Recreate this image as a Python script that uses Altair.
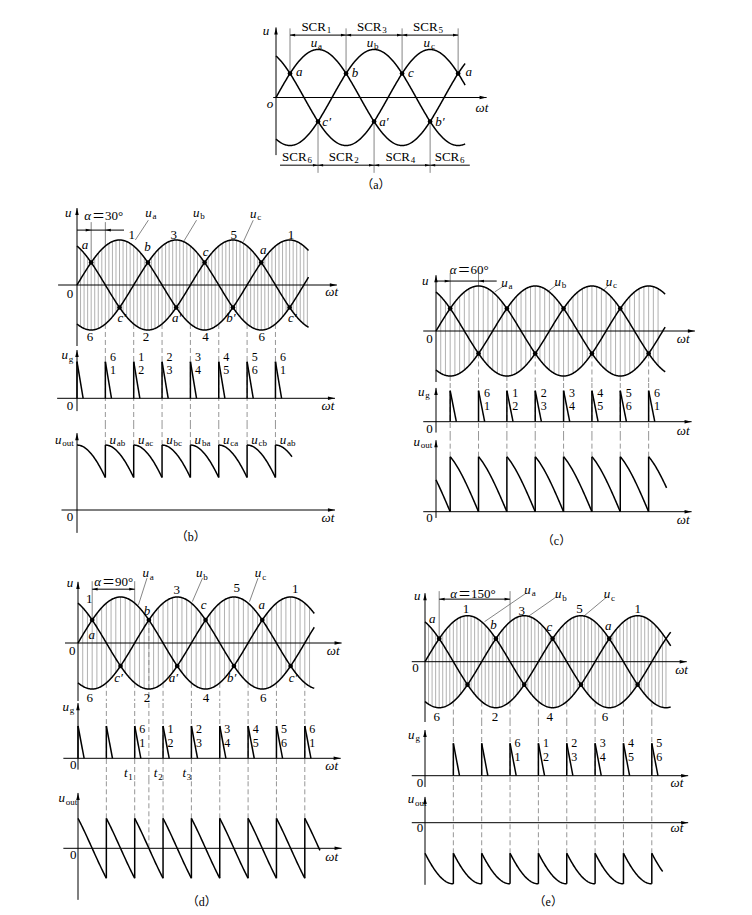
import math
import numpy as np
import pandas as pd
import altair as alt

# ---------------- values ----------------
PHASE_NAMES = ["a", "b", "c"]
PHASE_LAG_DEG = [0, 120, 240]            # u_a, u_b, u_c
UPPER_CROSS_DEG = [30, 150, 270, 390]    # a, b, c, a
LOWER_CROSS_DEG = [90, 210, 330, 450]    # c', a', b', c'

FIRING_ALPHA = {"b": 30, "c": 60, "d": 90, "e": 150}
CURVE_END_DEG = {"a": 405, "b": 490, "c": 485, "d": 500, "e": 520}
HATCH_STEP_DEG = {"b": 7.5, "c": 10, "d": 10, "e": 7.5}
HATCH_END_DEG = {"b": 487.5, "c": 470, "d": 495, "e": 510}

PULSE_DEG = {
    "b": [0, 60, 120, 180, 240, 300, 360, 420],
    "c": [30, 90, 150, 210, 270, 330, 390, 450],
    "d": [0, 60, 120, 180, 240, 300, 360, 420, 480],
    "e": [60, 120, 180, 240, 300, 360, 420, 480],
}
PULSE_PAIRS = {
    "b": ["", "61", "12", "23", "34", "45", "56", "61"],
    "c": ["", "61", "12", "23", "34", "45", "56", "61"],
    "d": ["", "", "61", "12", "23", "34", "45", "56", "61"],
    "e": ["", "", "61", "12", "23", "34", "45", "56"],
}
PULSE_WIDTH_DEG = 13
UOUT_END_DEG = {"b": 455, "c": 488, "d": 512, "e": 503}
UOUT_SEG_NAMES_B = ["ab", "ac", "bc", "ba", "ca", "cb", "ab"]
EXTRA_DASH_D = [150]
T_MARKS_D = ["1", "2", "3"]
SCR_TOP = ["1", "3", "5"]
SCR_BOTTOM = ["6", "2", "4", "6"]
PEAK_NUMS = ["1", "3", "5", "1"]
LOWER_NUMS = ["6", "2", "4", "6"]

# ---------------- annotation layout (data units of each strip) ----------------
A_LAYOUT = dict(
    u=(-21.4, 1.39), o=(-12.8, -0.14), wt=(441, -0.22), tip=1.46, bottom=-1.2, ax=(-6, 451),
    phase=[(88.4, 1.14), (208, 1.14), (330, 1.14)],
    points=[("a", 50, 0.54), ("b", 169, 0.52), ("c", 289, 0.52), ("a", 413, 0.54),
            ("c\u2032", 108.5, -0.5), ("a\u2032", 231, -0.5), ("b\u2032", 351, -0.5)],
    scr_top=[107, 226, 346], scr_top_y=1.47, scr_bot=[65.7, 165.6, 287, 392.5], scr_bot_y=-1.23,
    line_top=1.44, arrow_top=1.3, line_bot=-1.57, arrow_bot=-1.41, bot_left=8.6, bot_right=415,
    caption=(214, -1.82),
)

TOP_LAYOUT = {
    "b": dict(u=(-18.4, 1.61), tip=1.71, ax=(-40, 550), zero=(-14.8, -0.2), wt=(539, -0.15),
              alpha=(29.6, 1.53), dim_y=1.22, dim=(0, 99.5), mode="outside",
              peaks=[116, 205, 332, 453], peak_y=1.11,
              phase=[(158, 1.61), (259, 1.61), (380, 1.58)],
              leaders=[(151, 1.44, 123.5, 1.0), (253, 1.44, 226.5, 0.98), (373, 1.44, 352, 0.96)],
              points=[("a", 17, 0.9), ("b", 149, 0.85), ("c", 272, 0.74), ("a", 394, 0.78),
                      ("c\u2032", 94.6, -0.74), ("a\u2032", 211, -0.73), ("b\u2032", 326, -0.73),
                      ("c\u2032", 455.7, -0.73)],
              nums=[27.5, 146, 272, 391], num_y=-1.15),
    "c": dict(u=(-23, 1.11), tip=1.24, ax=(-27, 548), zero=(-14, -0.18), wt=(523, -0.18),
              alpha=(43.4, 1.356), dim_y=1.11, dim=(0, 128.5), mode="outside",
              peaks=[], peak_y=0,
              phase=[(152, 1.07), (264.5, 1.1), (373, 1.1)],
              leaders=[(146, 1.02, 124.5, 0.87), (257, 1.04, 236, 0.87), (367, 1.04, 353, 0.89)],
              points=[], nums=[], num_y=0),
    "d": dict(u=(-17, 1.3), tip=1.33, ax=(-27.5, 558), zero=(-12, -0.17), wt=(540, -0.17),
              alpha=(48.7, 1.33), dim_y=1.17, dim=(30, 120), mode="inside",
              peaks=[24, 209, 336, 460], peak_y=[0.95, 1.15, 1.19, 1.17],
              phase=[(150, 1.52), (263.5, 1.52), (388, 1.52)],
              leaders=[(146, 1.41, 128, 0.83), (263.5, 1.41, 242, 0.9), (381, 1.41, 363, 0.9)],
              points=[("b", 146, 0.7), ("c", 266, 0.83), ("a", 389, 0.83), ("a", 29, 0.17),
                      ("c\u2032", 85.8, -0.77), ("a\u2032", 202, -0.77), ("b\u2032", 325, -0.77),
                      ("c\u2032", 455, -0.77)],
              nums=[25, 146, 271, 392], num_y=-1.2),
    "e": dict(u=(-16.3, 1.43), tip=1.49, ax=(-28, 554), zero=(-20, -0.14), wt=(543, -0.18),
              alpha=(67.7, 1.47), dim_y=1.36, dim=(30, 180), mode="inside",
              peaks=[87, 205, 327, 450], peak_y=[1.14, 1.11, 1.14, 1.14],
              phase=[(224, 1.56), (289, 1.47), (392, 1.47)],
              leaders=[(214, 1.49, 126, 0.87), (278, 1.41, 218, 0.98), (385, 1.41, 335, 0.98)],
              points=[("a", 15.6, 0.92), ("b", 145, 0.8), ("c", 263, 0.75), ("a", 388, 0.78)],
              nums=[25, 148, 264, 381], num_y=-1.2),
}
UG_LAYOUT = {
    "b": dict(tip=1.32, ax=(-42, 546), lab=(-19, 1.18), zero=(-14.8, -0.21), wt=(531, -0.21),
              up=1.14, lo=0.77, dx=16),
    "c": dict(tip=1.09, ax=(-27, 541), lab=(-24.3, 0.97), zero=(-14, -0.25), wt=(523, -0.29),
              up=0.92, lo=0.51, dx=17.8),
    "d": dict(tip=1.71, ax=(-31, 556), lab=(-19, 1.6), zero=(-10, -0.21), wt=(537, -0.24),
              up=0.9, lo=0.46, dx=16, tx=[104.8, 168, 228.6], ty=-0.46),
    "e": dict(tip=1.41, ax=(-28, 557), lab=(-22, 1.26), zero=(-10.6, -0.22), wt=(533, -0.23),
              up=1.0, lo=0.59, dx=16),
}
OUT_LAYOUT = {
    "b": dict(tip=2.05, bottom=-0.61, ax=(-32.8, 546), lab=(-32.8, 1.87), zero=(-14.8, -0.19),
              wt=(531, -0.21), cap=("\uff08b\uff09", 241, -0.72), seg_dx=22.6, seg_y=1.87),
    "c": dict(tip=1.95, bottom=-0.17, ax=(-27, 541), lab=(-33.9, 1.91), zero=(-14, -0.18),
              wt=(523, -0.23), cap=("\uff08c\uff09", 255, -0.8)),
    "d": dict(tip=1.6, bottom=-1.49, ax=(-31, 558), lab=(-27.5, 1.45), zero=(-10, -0.19),
              wt=(537, -0.24), cap=("\uff08d\uff09", 261.8, -1.55)),
    "e": dict(tip=0.73, bottom=-1.76, ax=(-28, 557), lab=(-23, 0.66), zero=(-10.6, -0.16),
              wt=(533, -0.16), cap=("\uff08e\uff09", 260.8, -2.25)),
}

# strip geometry: (rect left, top, width, height), data origin (x0, y0), px per degree, px per unit
KX = 0.4725
GEOM = {
    "a": ((8, 8, 736, 188), (276, 97.5), 0.467, 48),
    "b": [((8, 196, 372, 150), (77, 285), KX, 45),
          ((8, 346, 372, 79), (77, 398.3), KX, 36.6),
          ((8, 425, 372, 123), (77, 510), KX, 37.5)],
    "c": [((380, 196, 364, 186), (436, 331), KX, 45),
          ((380, 382, 364, 54), (436, 421.7), KX, 31),
          ((380, 436, 364, 112), (436, 511.7), KX, 36.7)],
    "d": [((8, 548, 372, 153), (78, 643), KX, 46),
          ((8, 701, 372, 79), (78, 758.3), KX, 32.3),
          ((8, 780, 372, 127), (78, 848.3), KX, 34.6)],
    "e": [((380, 548, 364, 174), (425, 661.7), KX, 46),
          ((380, 722, 364, 68), (425, 775.7), KX, 32.4),
          ((380, 790, 364, 117), (425, 822.7), KX, 35.3)],
}

FONT = "'Liberation Serif', 'Noto Sans CJK SC', serif"
ARROW_PATH = "M0,-1L0.5,1L-0.5,1Z"
DIRS = {"up": (0, 1, 0), "right": (1, 0, 90), "down": (0, -1, 180), "left": (-1, 0, 270)}
SEG_STYLE = {
    "h": dict(color="#8f8f8f", strokeWidth=0.7),
    "g": dict(color="#666666", strokeWidth=0.8),
    "d": dict(color="#8a8a8a", strokeWidth=0.9, strokeDash=[5, 3]),
    "k": dict(color="black", strokeWidth=1.0),
    "K": dict(color="black", strokeWidth=1.5),
}


def phase_u(theta, k):
    return np.sin(np.radians(np.asarray(theta, dtype=float) - PHASE_LAG_DEG[k]))


def env(theta):
    vals = [float(phase_u(theta, k)) for k in range(3)]
    return max(vals), min(vals)


def uout(theta, f, alpha):
    return math.sqrt(3) * np.sin(np.radians(np.asarray(theta, dtype=float) - f + 60 + alpha))


class Strip:
    def __init__(self, rect, origin, kx, ky):
        left, top, w, h = rect
        x0, y0 = origin
        self.w, self.h, self.kx, self.ky = w, h, kx, ky
        self.xd = [(left - x0) / kx, (left + w - x0) / kx]
        self.yd = [(y0 - top - h) / ky, (y0 - top) / ky]
        self.segs, self.curves, self.heads, self.dots, self.texts = [], [], [], [], []
        self.n = 0

    def seg(self, x1, y1, x2, y2, style="k"):
        self.segs.append(dict(x=float(x1), y=float(y1), x2=float(x2), y2=float(y2), s=style))

    def curve(self, xs, ys):
        self.n += 1
        for i, (x, y) in enumerate(zip(xs, ys)):
            self.curves.append(dict(id=self.n, i=i, x=float(x), y=float(y)))

    def head(self, x, y, d, size=50):
        ux, uy, ang = DIRS[d]
        r = math.sqrt(size) / 2
        self.heads.append(dict(x=x - ux * r / self.kx, y=y - uy * r / self.ky, a=ang, sz=size))

    def dot(self, x, y):
        self.dots.append(dict(x=float(x), y=float(y)))

    def text(self, t, x, y, style="normal", size=13, align="center"):
        self.texts.append(dict(t=t, x=float(x), y=float(y), st=style, fs=size, al=align))

    def sub(self, main, s, x, y, style="italic", sstyle="normal", size=13, ssize=9):
        self.text(main, x, y, style, size, "right")
        self.text(s, x + 0.8 / self.kx, y - 3.5 / self.ky, sstyle, ssize, "left")

    def chart(self):
        X = alt.X("x:Q", scale=alt.Scale(domain=self.xd, nice=False, zero=False), axis=None)
        Y = alt.Y("y:Q", scale=alt.Scale(domain=self.yd, nice=False, zero=False), axis=None)
        frame = pd.DataFrame([dict(x=self.xd[0], y=self.yd[0], x2=self.xd[1], y2=self.yd[1])])
        layers = [alt.Chart(frame).mark_rect(fill="white", fillOpacity=0, strokeOpacity=0).encode(
            x=X, y=Y, x2=alt.X2("x2:Q"), y2=alt.Y2("y2:Q"))]
        sdf = pd.DataFrame(self.segs)
        for st, kw in SEG_STYLE.items():
            if len(sdf) == 0:
                break
            d = sdf[sdf.s == st]
            if len(d):
                layers.append(alt.Chart(d).mark_rule(**kw).encode(
                    x=X, y=Y, x2=alt.X2("x2:Q"), y2=alt.Y2("y2:Q")))
        if self.curves:
            layers.append(alt.Chart(pd.DataFrame(self.curves)).mark_line(
                color="black", strokeWidth=1.5).encode(x=X, y=Y, detail="id:N", order="i:Q"))
        if self.dots:
            layers.append(alt.Chart(pd.DataFrame(self.dots)).mark_circle(
                color="black", size=22, opacity=1).encode(x=X, y=Y))
        if self.heads:
            layers.append(alt.Chart(pd.DataFrame(self.heads)).mark_point(
                shape=ARROW_PATH, filled=True, color="black", opacity=1, strokeWidth=0).encode(
                x=X, y=Y, angle=alt.Angle("a:Q", scale=None), size=alt.Size("sz:Q", scale=None)))
        if self.texts:
            tdf = pd.DataFrame(self.texts)
            for (st, fs, al), d in tdf.groupby(["st", "fs", "al"]):
                layers.append(alt.Chart(d).mark_text(
                    font=FONT, fontStyle=st, fontSize=float(fs), align=al, baseline="middle",
                    color="black").encode(x=X, y=Y, text="t:N"))
        return alt.layer(*layers).properties(width=self.w, height=self.h)


# ---------------- panel (a) ----------------
def build_a():
    s = Strip(*GEOM["a"])
    L = A_LAYOUT
    th = np.arange(0, CURVE_END_DEG["a"] + 0.5, 1.0)
    for k in range(3):
        s.curve(th, phase_u(th, k))
    s.seg(0, L["bottom"], 0, L["tip"]); s.head(0, L["tip"], "up")
    s.seg(L["ax"][0], 0, L["ax"][1], 0); s.head(L["ax"][1], 0, "right")
    s.text("u", *L["u"], style="italic")
    s.text("o", *L["o"], style="italic")
    s.text("\u03c9t", *L["wt"], style="italic")
    for name, (x, y) in zip(PHASE_NAMES, L["phase"]):
        s.sub("u", name, x, y)
    for t in UPPER_CROSS_DEG:
        s.seg(t, 0.5, t, L["line_top"], "g")
        s.dot(t, 0.5)
    for t in LOWER_CROSS_DEG[:3]:
        s.seg(t, -0.5, t, L["line_bot"], "g")
        s.dot(t, -0.5)
    for p, q in zip(UPPER_CROSS_DEG[:-1], UPPER_CROSS_DEG[1:]):
        y = L["arrow_top"]
        s.seg(p, y, q, y); s.head(p, y, "left", 26); s.head(q, y, "right", 26)
    yb = L["arrow_bot"]
    s.seg(L["bot_left"], yb, 90, yb); s.head(90, yb, "right", 26)
    for p, q in [(90, 210), (210, 330)]:
        s.seg(p, yb, q, yb); s.head(p, yb, "left", 26); s.head(q, yb, "right", 26)
    s.seg(330, yb, L["bot_right"], yb); s.head(330, yb, "left", 26)
    for n, x in zip(SCR_TOP, L["scr_top"]):
        s.sub("SCR", n, x, L["scr_top_y"], style="normal")
    for n, x in zip(SCR_BOTTOM, L["scr_bot"]):
        s.sub("SCR", n, x, L["scr_bot_y"], style="normal")
    for t, x, y in L["points"]:
        s.text(t, x, y, style="italic")
    s.text("\uff08a\uff09", *L["caption"], size=12)
    return s.chart()


# ---------------- panels (b)-(e) ----------------
def build_top(key):
    s = Strip(*GEOM[key][0])
    L = TOP_LAYOUT[key]
    alpha = FIRING_ALPHA[key]
    step = HATCH_STEP_DEG[key]
    for t in np.arange(step, HATCH_END_DEG[key] + 1e-6, step):
        hi, lo = env(t)
        s.seg(t, hi, t, lo, "h")
    for f in PULSE_DEG[key]:
        if f > 0:
            s.seg(f, env(f)[1], f, s.yd[0], "d")
    if key == "d":
        for f in EXTRA_DASH_D:
            s.seg(f, 0.5, f, s.yd[0], "d")
    f1 = 30 + alpha
    dy = L["dim_y"]
    ext = dy + 8 / s.ky
    s.seg(30, ext, 30, 0.5, "g")
    s.seg(f1, ext, f1, env(f1)[0], "g")
    if L["mode"] == "outside":
        s.seg(L["dim"][0], dy, L["dim"][1], dy)
        s.head(30, dy, "right", 30); s.head(f1, dy, "left", 30)
    else:
        s.seg(30, dy, f1, dy)
        s.head(30, dy, "left", 30); s.head(f1, dy, "right", 30)
    s.text("\u03b1", L["alpha"][0], L["alpha"][1], style="italic", align="right")
    s.text("\uff1d%d\u00b0" % alpha, L["alpha"][0] + 1 / s.kx, L["alpha"][1], align="left")
    th = np.arange(0, CURVE_END_DEG[key] + 0.5, 1.0)
    for k in range(3):
        s.curve(th, phase_u(th, k))
    for t in UPPER_CROSS_DEG:
        s.dot(t, 0.5)
    for t in LOWER_CROSS_DEG:
        s.dot(t, -0.5)
    s.seg(0, s.yd[0], 0, L["tip"]); s.head(0, L["tip"], "up")
    s.seg(L["ax"][0], 0, L["ax"][1], 0); s.head(L["ax"][1], 0, "right")
    s.text("u", *L["u"], style="italic")
    s.text("0", *L["zero"])
    s.text("\u03c9t", *L["wt"], style="italic")
    for name, (x, y) in zip(PHASE_NAMES, L["phase"]):
        s.sub("u", name, x, y)
    for x1, y1, x2, y2 in L["leaders"]:
        s.seg(x1, y1, x2, y2, "g")
    py = L["peak_y"]
    for i, (n, x) in enumerate(zip(PEAK_NUMS, L["peaks"])):
        s.text(n, x, py[i] if isinstance(py, list) else py, size=13)
    for t, x, y in L["points"]:
        s.text(t, x, y, style="italic")
    for n, x in zip(LOWER_NUMS, L["nums"]):
        s.text(n, x, L["num_y"], size=13)
    return s.chart()


def build_ug(key):
    s = Strip(*GEOM[key][1])
    L = UG_LAYOUT[key]
    for f in PULSE_DEG[key]:
        if f > 0:
            s.seg(f, s.yd[0], f, s.yd[1], "d")
    if key == "d":
        for f in EXTRA_DASH_D:
            s.seg(f, s.yd[0], f, s.yd[1], "d")
    s.seg(0, -0.35, 0, L["tip"]); s.head(0, L["tip"], "up")
    s.seg(L["ax"][0], 0, L["ax"][1], 0); s.head(L["ax"][1], 0, "right")
    for f, pair in zip(PULSE_DEG[key], PULSE_PAIRS[key]):
        s.seg(f, 0, f, 1, "K")
        s.seg(f, 1, f + PULSE_WIDTH_DEG, 0, "K")
        if pair:
            s.text(pair[0], f + L["dx"], L["up"], size=12)
            s.text(pair[1], f + L["dx"], L["lo"], size=12)
    s.sub("u", "g", *L["lab"])
    s.text("0", *L["zero"])
    s.text("\u03c9t", *L["wt"], style="italic")
    if key == "d":
        for n, x in zip(T_MARKS_D, L["tx"]):
            s.sub("t", n, x, L["ty"])
    return s.chart()


def build_out(key):
    s = Strip(*GEOM[key][2])
    L = OUT_LAYOUT[key]
    alpha = FIRING_ALPHA[key]
    pulses = PULSE_DEG[key]
    end = UOUT_END_DEG[key]
    pieces = []
    if pulses[0] > 0:
        pieces.append((pulses[0] - 60, 0, pulses[0]))
    for i, f in enumerate(pulses):
        nxt = pulses[i + 1] if i + 1 < len(pulses) else end
        pieces.append((f, f, nxt))
    for f, a, b in pieces:
        th = np.linspace(a, b, int(b - a) + 2)
        s.curve(th, uout(th, f, alpha))
    for f in pulses:
        if f <= 0:
            continue
        v0 = float(uout(f, f - 60, alpha))
        v1 = float(uout(f, f, alpha))
        s.seg(f, v0, f, v1, "K")
        s.seg(f, max(v0, v1), f, s.yd[1], "d")
    if key == "d":
        for f in EXTRA_DASH_D:
            s.seg(f, 0, f, s.yd[1], "d")
    s.seg(0, L["bottom"], 0, L["tip"]); s.head(0, L["tip"], "up")
    s.seg(L["ax"][0], 0, L["ax"][1], 0); s.head(L["ax"][1], 0, "right")
    s.sub("u", "out", *L["lab"])
    s.text("0", *L["zero"])
    s.text("\u03c9t", *L["wt"], style="italic")
    if key == "b":
        for f, nm in zip(pulses[1:], UOUT_SEG_NAMES_B):
            s.sub("u", nm, f + L["seg_dx"], L["seg_y"])
    cap, cx, cy = L["cap"]
    s.text(cap, cx, cy, size=12)
    return s.chart()


def panel(key):
    return alt.vconcat(build_top(key), build_ug(key), build_out(key), spacing=0, bounds="flush")


row2 = alt.hconcat(panel("b"), panel("c"), spacing=0)
row3 = alt.hconcat(panel("d"), panel("e"), spacing=0)
chart = alt.vconcat(build_a(), row2, row3, spacing=0, padding=0).configure_view(strokeWidth=0)

chart.save("out.html", embed_options={"renderer": "svg", "actions": False})
